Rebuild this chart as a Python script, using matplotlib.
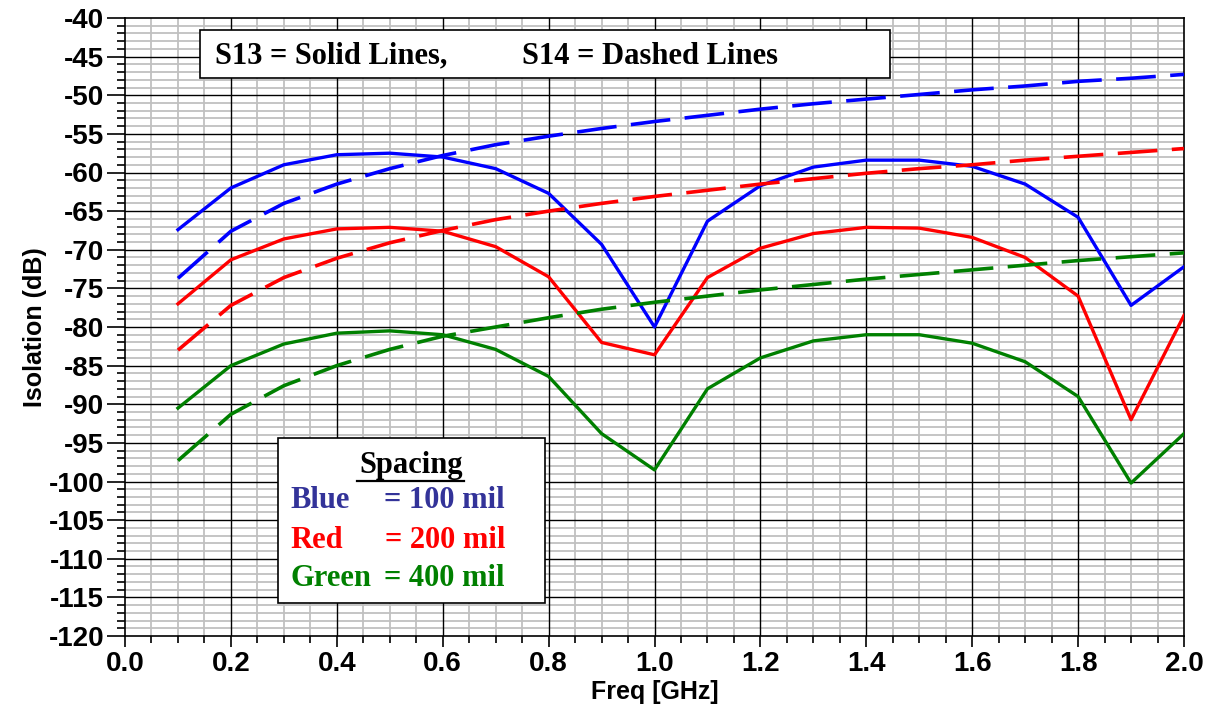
import numpy as np
import matplotlib.pyplot as plt
from matplotlib.ticker import MultipleLocator

plt.rcParams['axes.unicode_minus'] = False
plt.rcParams['font.family'] = 'Liberation Sans'
plt.rcParams['font.weight'] = 'bold'
plt.rcParams['axes.labelweight'] = 'bold'

# Frequency points (GHz)
freq = [0.1, 0.2, 0.3, 0.4, 0.5, 0.6, 0.7, 0.8, 0.9, 1.0,
        1.1, 1.2, 1.3, 1.4, 1.5, 1.6, 1.7, 1.8, 1.9, 2.0]

# S13 (solid lines)
s13_100 = [-67.4, -62.0, -59.0, -57.7, -57.5, -58.0, -59.5, -62.7, -69.3, -80.0,
           -66.3, -61.7, -59.3, -58.4, -58.4, -59.2, -61.5, -65.8, -77.2, -72.2]
s13_200 = [-77.0, -71.3, -68.6, -67.3, -67.1, -67.6, -69.6, -73.5, -82.0, -83.6,
           -73.6, -69.8, -67.9, -67.1, -67.2, -68.4, -71.0, -76.0, -92.0, -78.5]
s13_400 = [-90.5, -85.0, -82.2, -80.8, -80.5, -81.0, -82.9, -86.4, -93.8, -98.5,
           -88.0, -84.0, -81.8, -81.0, -81.0, -82.1, -84.5, -89.0, -100.2, -93.8]

# S14 (dashed lines)
s14_100 = [-73.7, -67.6, -64.0, -61.5, -59.5, -57.8, -56.4, -55.3, -54.3, -53.4,
           -52.6, -51.8, -51.1, -50.5, -49.9, -49.3, -48.8, -48.2, -47.8, -47.3]
s14_200 = [-83.0, -77.2, -73.6, -71.1, -69.1, -67.5, -66.1, -65.0, -64.0, -63.1,
           -62.3, -61.5, -60.8, -60.1, -59.5, -59.0, -58.4, -57.9, -57.4, -56.9]
s14_400 = [-97.3, -91.3, -87.6, -85.0, -82.9, -81.2, -80.0, -78.8, -77.7, -76.8,
           -76.0, -75.2, -74.5, -73.8, -73.2, -72.6, -72.0, -71.4, -70.9, -70.4]

blue, red, green = '#0000ff', '#ff0000', '#008000'

fig = plt.figure(figsize=(12.16, 7.06), dpi=100)
ax = fig.add_axes([125 / 1216, 70 / 706, 1059 / 1216, 618 / 706])

ax.set_xlim(0, 2.0)
ax.set_ylim(-120, -40)
ax.xaxis.set_major_locator(MultipleLocator(0.2))
ax.xaxis.set_minor_locator(MultipleLocator(0.05))
ax.yaxis.set_major_locator(MultipleLocator(5))
ax.yaxis.set_minor_locator(MultipleLocator(1))

# grey minor grid, black major grid on top of it
ax.grid(which='minor', color='#c0c0c0', lw=1.3)
ax.set_axisbelow(True)
for xv in np.arange(0.2, 2.0, 0.2):
    ax.axvline(xv, color='black', lw=1.0, zorder=1)
for yv in np.arange(-115, -40, 5):
    ax.axhline(yv, color='black', lw=1.0, zorder=1)

for y, c in [(s13_100, blue), (s13_200, red), (s13_400, green)]:
    ax.plot(freq, y, color=c, lw=2.4, zorder=3)
for y, c in [(s14_100, blue), (s14_200, red), (s14_400, green)]:
    ax.plot(freq, y, color=c, lw=2.6, dashes=(11, 4), zorder=3)

ax.xaxis.set_major_formatter(plt.FuncFormatter(lambda v, p: f'{v:.1f}'))
ax.tick_params(axis='both', which='major', labelsize=20, width=1.2)
ax.tick_params(axis='y', which='major', length=13, direction='out', pad=2)
ax.tick_params(axis='y', which='minor', length=6, width=1.2, direction='out')
ax.tick_params(axis='x', which='major', length=8, direction='out', pad=3)
ax.tick_params(axis='x', which='minor', length=5, width=1.2, direction='out')
for s in ax.spines.values():
    s.set_linewidth(1.2)

ax.set_xlabel('Freq [GHz]', fontsize=18, labelpad=2)
ax.set_ylabel('Isolation (dB)', fontsize=18, labelpad=1)

serif = {'family': 'Liberation Serif', 'weight': 'bold', 'size': 22}

# Title box
fig.add_artist(plt.Rectangle((200 / 1216, 1 - 78 / 706), 690 / 1216, 48 / 706,
                             transform=fig.transFigure, fc='white', ec='black',
                             lw=1.2, zorder=4))
fig.text(215 / 1216, 1 - 56 / 706, 'S13 = Solid Lines,', fontdict=serif,
         ha='left', va='center', zorder=5)
fig.text(522 / 1216, 1 - 56 / 706, 'S14 = Dashed Lines', fontdict=serif,
         ha='left', va='center', zorder=5)

# Spacing box
fig.add_artist(plt.Rectangle((278 / 1216, 1 - 603 / 706), 267 / 1216, 165 / 706,
                             transform=fig.transFigure, fc='white', ec='black',
                             lw=1.2, zorder=4))
fig.text(411 / 1216, 1 - 465 / 706, 'Spacing', fontdict=serif,
         ha='center', va='center', zorder=5)
fig.add_artist(plt.Line2D([357 / 1216, 464 / 1216], [1 - 481 / 706, 1 - 481 / 706],
                          color='black', lw=1.6, zorder=5))
labels = ['Blue', 'Red', 'Green']
values = ['= 100 mil', '= 200 mil', '= 400 mil']
label_colors = ['#333399', red, green]
rows_y = [501, 540, 578]
for lab, val, c, yp in zip(labels, values, label_colors, rows_y):
    fig.text(290 / 1216, 1 - yp / 706, lab, fontdict=serif, color=c,
             ha='left', va='center', zorder=5)
    fig.text(505 / 1216, 1 - yp / 706, val, fontdict=serif, color=c,
             ha='right', va='center', zorder=5)

fig.savefig('out.png', dpi=100)
